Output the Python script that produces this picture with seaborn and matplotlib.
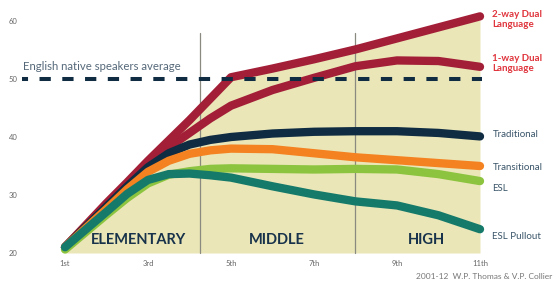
import pandas as pd
import matplotlib.pyplot as plt
import seaborn as sns

# === data ===
grades = [1, 2, 2.5, 3, 3.5, 4, 4.5, 5, 6, 7, 8, 9, 10, 11]
grade_labels = ["1st", "3rd", "5th", "7th", "9th", "11th"]
label_grades = [1, 3, 5, 7, 9, 11]

two_way = [21.0, 28.6, 32.2, 35.9, 39.4, 42.9, 46.6, 50.3, 51.8, 53.4, 55.1, 57.0, 58.9, 60.8]
one_way = [21.0, 28.3, 31.8, 35.2, 38.2, 40.7, 43.2, 45.4, 48.1, 50.2, 52.2, 53.2, 53.1, 52.1]
traditional = [21.0, 28.0, 31.5, 34.8, 37.2, 38.7, 39.5, 40.0, 40.6, 40.9, 41.0, 41.0, 40.7, 40.1]
transitional = [21.0, 27.6, 31.0, 34.0, 35.9, 37.1, 37.7, 38.0, 37.9, 37.2, 36.5, 36.0, 35.5, 35.0]
esl = [20.6, 26.6, 29.5, 32.0, 33.5, 34.1, 34.5, 34.6, 34.5, 34.4, 34.5, 34.4, 33.6, 32.4]
esl_pullout = [21.0, 27.1, 30.2, 32.6, 33.6, 33.7, 33.4, 33.0, 31.5, 30.1, 28.9, 28.2, 26.5, 24.1]

native_avg = 50
section_names = ["ELEMENTARY", "MIDDLE", "HIGH"]
section_centers = [2.76, 6.1, 9.7]
section_bounds = [4.25, 8.0]

programs = ["2-way Dual\nLanguage", "1-way Dual\nLanguage", "Traditional",
            "Transitional", "ESL", "ESL Pullout"]
series = [two_way, one_way, traditional, transitional, esl, esl_pullout]
colors = ["#A31F37", "#A31F37", "#0F2C42", "#F58220", "#8CC43F", "#167A6A"]
label_colors = ["#E0343C", "#E0343C", "#3A5569", "#3A5569", "#3A5569", "#3A5569"]
label_y = [60.3, 52.7, 40.5, 34.8, 31.2, 22.9]

rows = []
for name, vals in zip(programs, series):
    for g, v in zip(grades, vals):
        rows.append({"grade": g, "score": v, "program": name})
df = pd.DataFrame(rows)

# === plot ===
sns.set_style("white")
plt.rcParams["font.family"] = ["Lato", "DejaVu Sans"]

fig = plt.figure(figsize=(5.6, 2.81), dpi=100)
ax = fig.add_axes([22 / 560, 28 / 281, 458 / 560, 232 / 281])
ax.set_xlim(-0.036, 11)
ax.set_ylim(20, 60)

ax.fill_between(grades, 20, two_way, color="#EAE6B8", lw=0, zorder=0)
for b in section_bounds:
    ax.plot([b, b], [20, 57.9], color="#8A8A80", lw=0.9, zorder=1, clip_on=False)

sns.lineplot(data=df, x="grade", y="score", hue="program", hue_order=programs,
             palette=dict(zip(programs, colors)), linewidth=6.0,
             solid_capstyle="round", solid_joinstyle="round",
             legend=False, ax=ax, zorder=3)
for line in ax.get_lines()[-len(programs):]:
    line.set_clip_on(False)

dash, = ax.plot([-0.036, 11.05], [native_avg, native_avg], color="#0F2C42",
                lw=2.9, zorder=4, clip_on=False)
dash.set_linestyle((1.3, (2.8, 2.85)))
ax.text(-0.0, 52.2, "English native speakers average", fontsize=8.2,
        color="#56697A", va="center", ha="left")

for name, c in zip(section_names, section_centers):
    ax.text(c, 22.2, name, fontsize=10.5, fontweight="bold", color="#17324A",
            ha="center", va="center", zorder=5)

for name, col, y in zip(programs, label_colors, label_y):
    ax.text(11.3, y, name, fontsize=7, color=col, ha="left", va="center",
            linespacing=1.2, fontweight="bold" if "Dual" in name else "normal")

ax.text(9.45, 16.0, "2001-12  W.P. Thomas & V.P. Collier", fontsize=6.0,
        color="#777777", ha="left", va="center", clip_on=False)

ax.set_xticks(label_grades)
ax.set_xticklabels(grade_labels)
ax.set_yticks([20, 30, 40, 50, 60])
ax.tick_params(axis="both", length=0, labelsize=5.5, labelcolor="#666666")
ax.tick_params(axis="x", pad=5)
ax.tick_params(axis="y", pad=3)
ax.set_xlabel("")
ax.set_ylabel("")
sns.despine(ax=ax, left=True, bottom=True)

plt.savefig("out.png", dpi=100)
